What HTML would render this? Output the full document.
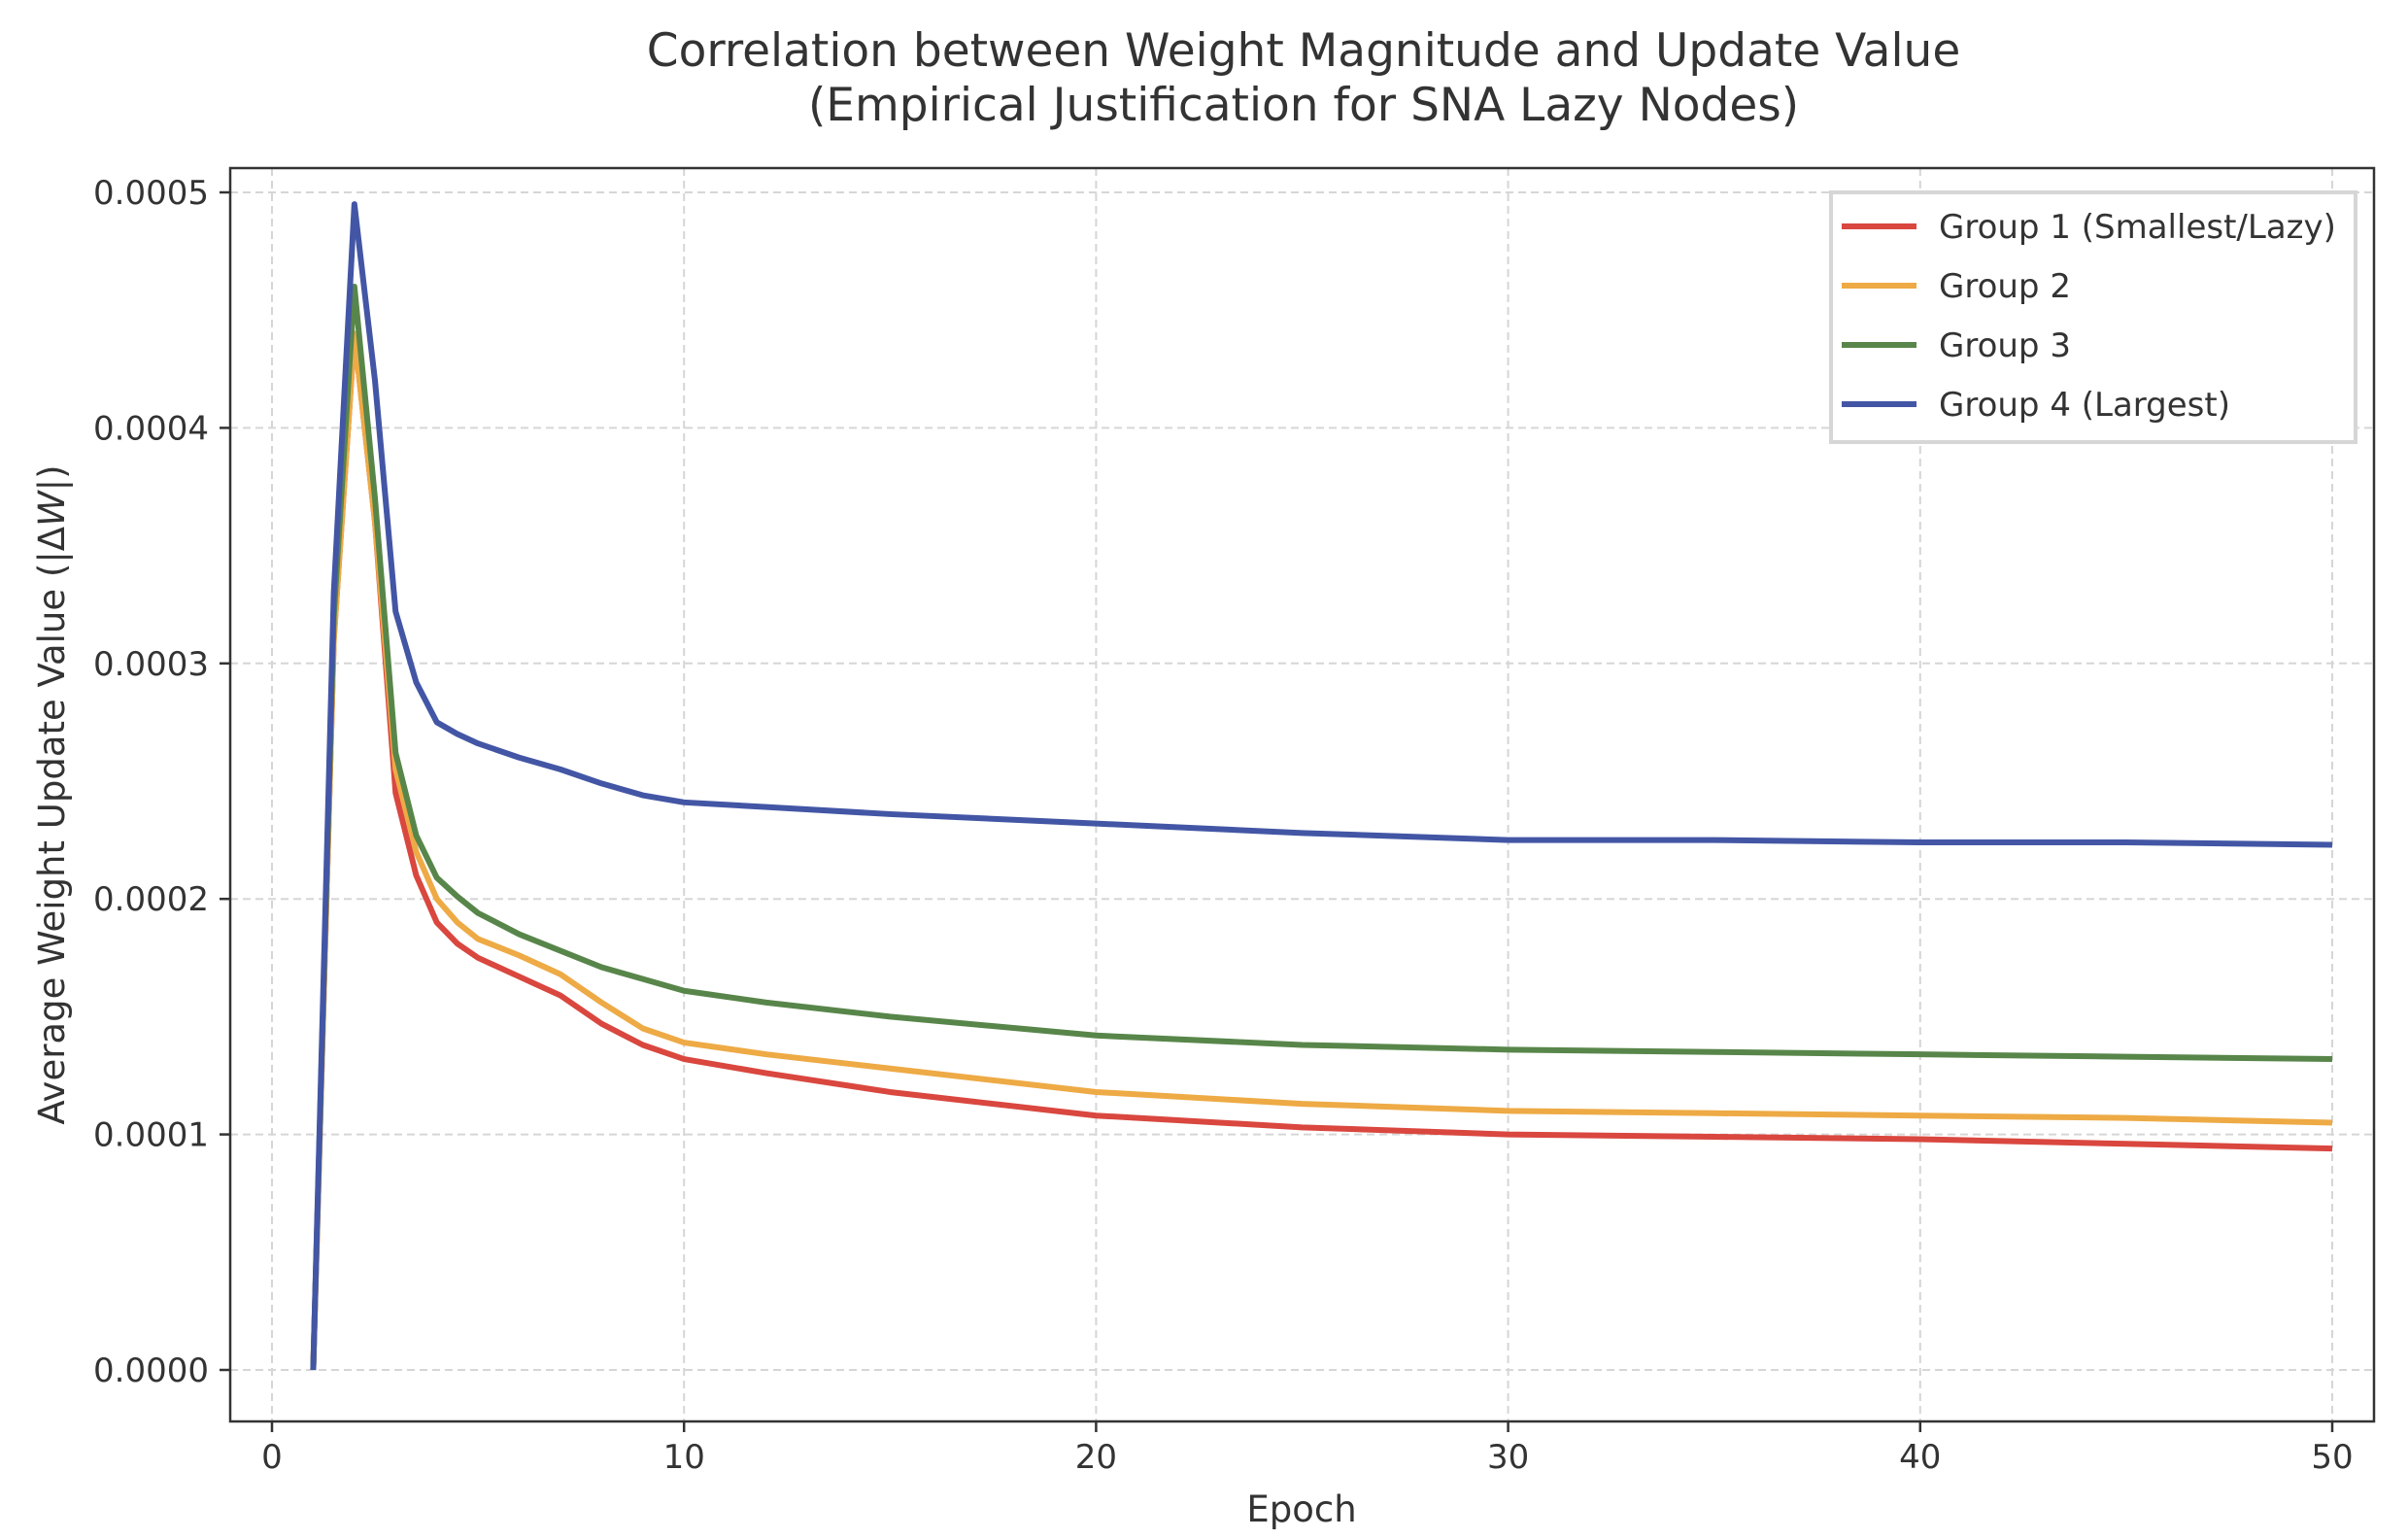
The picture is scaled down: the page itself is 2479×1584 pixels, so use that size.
<!DOCTYPE html>
<html><head><meta charset="utf-8"><style>
html,body{margin:0;padding:0;background:#fff;}
svg{display:block;font-family:"DejaVu Sans","Liberation Sans",sans-serif;}
</style></head><body>
<svg id="chart" width="2479" height="1584" viewBox="0 0 2479 1584">
<text x="1342" y="68" font-size="47" fill="#333" text-anchor="middle">Correlation between Weight Magnitude and Update Value</text>
<text x="1342" y="124" font-size="47" fill="#333" text-anchor="middle">(Empirical Justification for SNA Lazy Nodes)</text>
<g id="grid"></g>
<g id="lines"></g>
<rect x="237" y="173" width="2207" height="1290" fill="none" stroke="#333" stroke-width="2.5"/>
<g id="ticks"></g>
<text x="1340" y="1566" font-size="37" fill="#333" text-anchor="middle">Epoch</text>
<text transform="translate(66,818) rotate(-90)" font-size="37" fill="#333" text-anchor="middle">Average Weight Update Value (|Δ<tspan font-style="italic">W</tspan>|)</text>
<g id="legend"></g>
</svg>
<script>
const epochs = [1,1.5,2,2.5,3,3.5,4,4.5,5,6,7,8,9,10,12,15,20,25,30,35,40,45,50];
const group1 = [0,0.00031,0.00044,0.00036,0.000245,0.00021,0.00019,0.000181,0.000175,0.000167,0.000159,0.000147,0.000138,0.000132,0.000126,0.000118,0.000108,0.000103,0.0001,0.000099,0.000098,0.000096,0.000094];
const group2 = [0,0.00031,0.00044,0.00036,0.000255,0.00022,0.0002,0.00019,0.000183,0.000176,0.000168,0.000156,0.000145,0.000139,0.000134,0.000128,0.000118,0.000113,0.00011,0.000109,0.000108,0.000107,0.000105];
const group3 = [0,0.00032,0.00046,0.00037,0.000262,0.000227,0.000209,0.000201,0.000194,0.000185,0.000178,0.000171,0.000166,0.000161,0.000156,0.00015,0.000142,0.000138,0.000136,0.000135,0.000134,0.000133,0.000132];
const group4 = [0,0.00033,0.000495,0.00042,0.000322,0.000292,0.000275,0.00027,0.000266,0.00026,0.000255,0.000249,0.000244,0.000241,0.000239,0.000236,0.000232,0.000228,0.000225,0.000225,0.000224,0.000224,0.000223];
const seriesNames = ["Group 1 (Smallest/Lazy)","Group 2","Group 3","Group 4 (Largest)"];
const xTicks = [0,10,20,30,40,50];
const yTicks = [0,0.0001,0.0002,0.0003,0.0004,0.0005];
const yTickLabels = ["0.0000","0.0001","0.0002","0.0003","0.0004","0.0005"];

const NS="http://www.w3.org/2000/svg";
const colors=["#d9473f","#eeaa45","#58864a","#4356a5"];
const X=v=>280+(v/50)*(2401-280);
const Y=v=>1410-(v/0.0005)*(1410-198);
function mk(tag,attrs,parent){const e=document.createElementNS(NS,tag);for(const k in attrs)e.setAttribute(k,attrs[k]);parent.appendChild(e);return e;}
const grid=document.getElementById('grid'),ticks=document.getElementById('ticks'),lines=document.getElementById('lines'),legend=document.getElementById('legend');
xTicks.forEach(t=>{
  const g=mk('line',{x1:X(t),x2:X(t),y1:173,y2:1463,stroke:"#d6d6d6","stroke-width":2,"stroke-dasharray":"8,5"},grid);
  
  
  const tk=mk('line',{x1:X(t),x2:X(t),y1:1463,y2:1474,stroke:"#333","stroke-width":2.5},ticks);
  
  
  const tl=mk('text',{x:X(t),y:1511,"font-size":34,fill:"#333","text-anchor":"middle"},ticks);
  tl.textContent=t;
  
  
});
yTicks.forEach((t,i)=>{
  const g=mk('line',{x1:237,x2:2444,y1:Y(t),y2:Y(t),stroke:"#d6d6d6","stroke-width":2,"stroke-dasharray":"8,5"},grid);
  
  
  const tk=mk('line',{x1:226,x2:237,y1:Y(t),y2:Y(t),stroke:"#333","stroke-width":2.5},ticks);
  
  
  const tl=mk('text',{x:215,y:Y(t)+12,"font-size":34,fill:"#333","text-anchor":"end"},ticks);
  tl.textContent=yTickLabels[i];
  
  
});
[group1,group2,group3,group4].forEach((s,i)=>{
  const p=mk('polyline',{points:s.map((v,j)=>X(epochs[j])+","+Y(v)).join(" "),fill:"none",stroke:colors[i],"stroke-width":6,"stroke-linejoin":"round"},lines);
  
  
});
const box=mk('rect',{x:1885,y:198,width:540,height:257,fill:"#fff",stroke:"#d6d6d6","stroke-width":4},legend);


seriesNames.forEach((n,i)=>{
  const y=233+i*61;
  const l=mk('line',{x1:1896,x2:1973,y1:y,y2:y,stroke:colors[i],"stroke-width":6},legend);
  
  
  const t=mk('text',{x:1996,y:y+12,"font-size":34,fill:"#333"},legend);
  t.textContent=n;
  
  
});
</script>
</body></html>
